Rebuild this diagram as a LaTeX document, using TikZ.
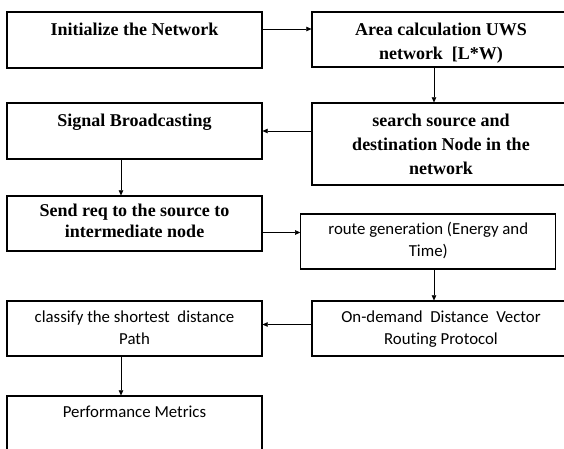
\documentclass[tikz,border=0pt]{standalone}
\usepackage{fontspec}
\newfontfamily\stageserif{Liberation Serif}
\newfontfamily\stagesans[Ligatures=NoCommon]{Carlito}
\usetikzlibrary{
    calc,
    positioning,
    arrows.meta
}
\tikzset{
    line/.style = {
        semithick,
        -{Triangle[length=1.8mm, width=1.6mm]}
    },
    arrow/.style = {
        line
    },
    % Process box:
    stage box/.style = {
        draw,
        rectangle,
        line width=1.1pt,
        inner sep=0pt,
        minimum width=255pt,
        minimum height=55pt
    },
    % Bold serif text:
    serif text/.style = {
        inner sep=0pt,
        align=center,
        font=\stageserif\bfseries\fontsize{18}{24}\selectfont
    },
    % Plain sans text:
    sans text/.style = {
        inner sep=0pt,
        align=center,
        font=\stagesans\fontsize{16.8}{22}\selectfont
    }
}

\begin{document}
\begin{tikzpicture}[x=1pt, y=-1pt]
            \useasboundingbox (0, 0) rectangle (564, 448);
            \clip (0, 0) rectangle (564, 448);
            % left column
            \node [stage box, minimum height=56pt] (init) at (134.5, 40) {};
            \node [stage box, minimum height=56pt] (signal) at (134.5, 131) {};
            \node [stage box] (send) at (134.5, 223.5) {};
            \node [stage box] (classify) at (134.5, 328.5) {};
            \node [stage box, minimum height=64pt] (perf) at (134.5, 428) {};
            % right column
            \node [stage box, minimum width=258pt] (area) at (441, 39.5) {};
            \node [stage box, minimum width=258pt, minimum height=82pt] (search) at (441, 144) {};
            \node [stage box] (route) at (428.25, 241.5) {};
            \node [stage box, minimum width=258pt] (odv) at (441, 328.5) {};
            % texts
            \node [serif text, below=11pt of init.north] (initT) {Initialize the Network};
            \node [serif text, below=11pt of area.north] (areaT) {Area calculation UWS\\network\ \ [L*W)};
            \node [serif text, below=11pt of signal.north] (signalT) {Signal Broadcasting};
            \node [serif text, below=11pt of search.north] (searchT) {search source and\\destination Node in the\\network};
            \node [serif text, below=8.5pt of send.north, font=\stageserif\bfseries\fontsize{18}{20.5}\selectfont] (sendT) {Send req to the source to\\intermediate node};
            \node [sans text, below=9pt of route.north] (routeT) {route generation (Energy and\\Time)};
            \node [sans text, below=10pt of odv.north] (odvT) {On-demand\ \ Distance\ \ Vector\\Routing Protocol};
            \node [sans text, below=10pt of classify.north] (classifyT) {classify the shortest\ \ distance\\Path};
            \node [sans text, below=10pt of perf.north] (perfT) {Performance Metrics};
            % connectors
            \coordinate (a1) at (init.east |- 0, 29);
            \draw [arrow] (a1) -- (a1 -| area.west);
            \coordinate (a2) at ([xshift=-7pt]area.south);
            \draw [arrow] (a2) -- (a2 |- search.north);
            \draw [arrow] (search.west |- signal.east) -- (signal.east);
            \coordinate (a4) at ([xshift=-13.5pt]signal.south);
            \draw [arrow] (a4) -- (a4 |- send.north);
            \coordinate (a5) at ([yshift=-9pt]send.east);
            \draw [arrow] (a5) -- (a5 -| route.west);
            \coordinate (a6) at ([xshift=5.75pt]route.south);
            \draw [arrow] (a6) -- (a6 |- odv.north);
            \coordinate (a7) at ([yshift=4pt]odv.west);
            \draw [arrow] (a7) -- (a7 -| classify.east);
            \coordinate (a8) at ([xshift=-13.5pt]classify.south);
            \draw [arrow] (a8) -- (a8 |- perf.north);
        \end{tikzpicture}
\end{document}
